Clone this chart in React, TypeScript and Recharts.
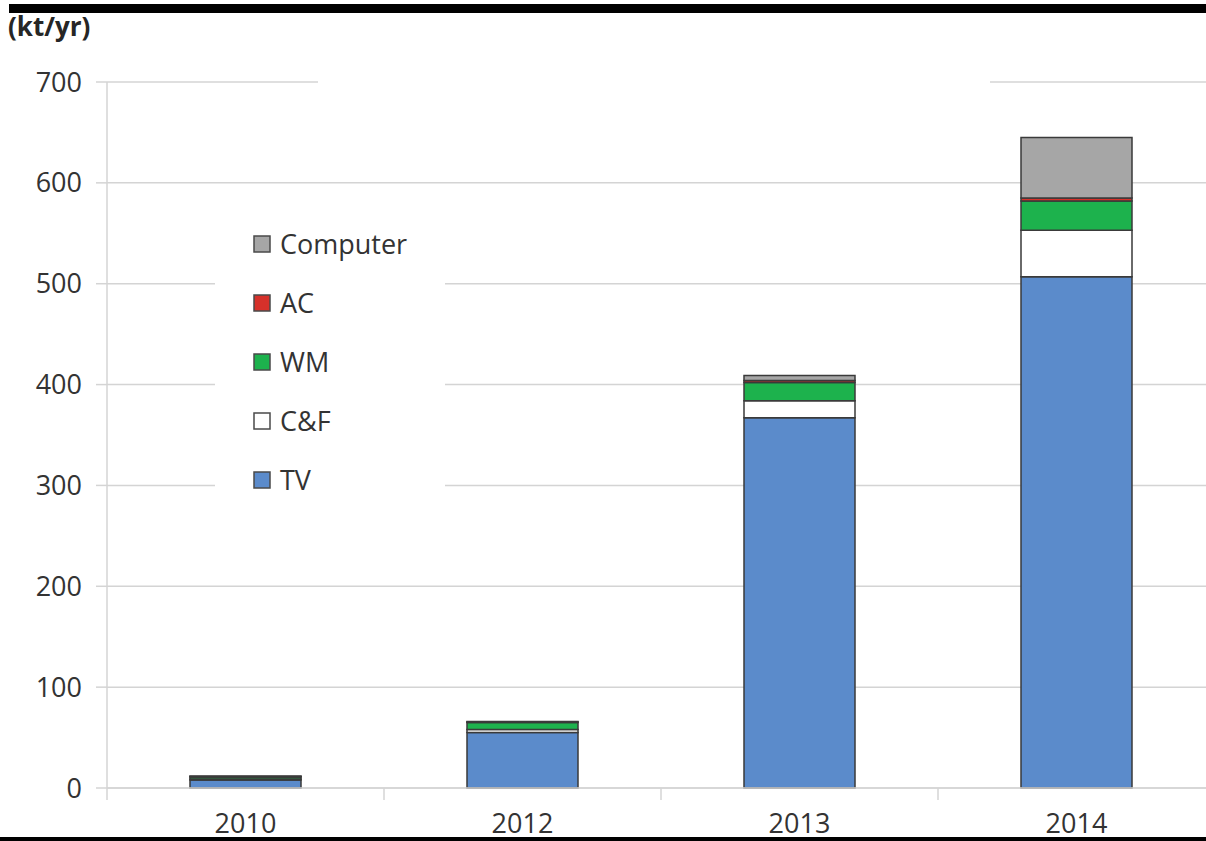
import React from 'react';
import { BarChart, Bar, XAxis, YAxis, CartesianGrid, Legend } from 'recharts';

const categories = ['2010', '2012', '2013', '2014'];
const tvValues = [8, 55, 367, 507];
const cfValues = [1, 3, 17, 46];
const wmValues = [2, 7, 18, 29];
const acValues = [0.5, 0.5, 2, 3];
const computerValues = [0.5, 0.5, 5, 60];
const yTicks = [0, 100, 200, 300, 400, 500, 600, 700];

const seriesList = [
  { key: 'TV', values: tvValues, color: '#5b8bcb' },
  { key: 'C&F', values: cfValues, color: '#ffffff' },
  { key: 'WM', values: wmValues, color: '#1db24d' },
  { key: 'AC', values: acValues, color: '#d6312a' },
  { key: 'Computer', values: computerValues, color: '#a6a6a6' },
];

const data = categories.map((c, i) => {
  const row: any = { year: c };
  seriesList.forEach((s) => {
    row[s.key] = s.values[i];
  });
  return row;
});

const CHART_W = 1215;
const CHART_H = 841;
const Y_AXIS_W = 107;
const PLOT_W = CHART_W - Y_AXIS_W;
const FONT = '"Open Sans", "Liberation Sans", sans-serif';
const TEXT_COLOR = '#333333';
const GRID = '#d4d4d4';

const XTick = (props: any) => {
  const { x, y, payload } = props;
  const band = PLOT_W / categories.length;
  return (
    <g>
      <line x1={x - band / 2} x2={x - band / 2} y1={y} y2={y + 12} stroke={GRID} strokeWidth={1.5} />
      <text x={x} y={y + 45} textAnchor="middle" fontFamily={FONT} fontSize={27} fill={TEXT_COLOR}>
        {payload.value}
      </text>
    </g>
  );
};

const LegendContent = () => {
  const items = [...seriesList].reverse();
  return (
    <svg width={230} height={310}>
      {items.map((s, i) => {
        const cy = 49 + i * 59;
        return (
          <g key={s.key}>
            <rect x={39} y={cy - 8} width={16} height={16} fill={s.color} stroke="#4a4a4a" strokeWidth={1.5} />
            <text x={65} y={cy} dy="0.36em" fontFamily={FONT} fontSize={27} fill={TEXT_COLOR}>
              {s.key}
            </text>
          </g>
        );
      })}
    </svg>
  );
};

export default function App() {
  return (
    <div style={{ position: 'absolute', left: 0, top: 0, width: 1206, height: 841, overflow: 'hidden', background: '#fff' }}>
      <BarChart
        width={CHART_W}
        height={CHART_H}
        data={data}
        margin={{ top: 82, right: 0, bottom: 0, left: 0 }}
      >
        <CartesianGrid vertical={false} stroke={GRID} strokeWidth={1.5} />
        <XAxis
          dataKey="year"
          height={53}
          axisLine={{ stroke: GRID, strokeWidth: 1.5 }}
          tickLine={false}
          tickSize={0}
          tickMargin={0}
          tick={<XTick />}
          interval={0}
        />
        <YAxis
          width={Y_AXIS_W}
          domain={[0, 700]}
          ticks={yTicks}
          interval={0}
          axisLine={{ stroke: GRID, strokeWidth: 1.5 }}
          tickLine={{ stroke: GRID, strokeWidth: 1.5 }}
          tickSize={11}
          tickMargin={14}
          tick={{ fontFamily: FONT, fontSize: 27, fill: TEXT_COLOR }}
        />
        <Legend
          layout="vertical"
          align="center"
          verticalAlign="middle"
          content={<LegendContent />}
          wrapperStyle={{ position: 'absolute', left: 215, top: 195, width: 230, height: 310, background: '#fff' }}
        />
        {seriesList.map((s) => (
          <Bar
            key={s.key}
            dataKey={s.key}
            stackId="a"
            fill={s.color}
            stroke="#3a3a3a"
            strokeWidth={1.5}
            barSize={111}
            isAnimationActive={false}
          />
        ))}
      </BarChart>
      <svg width={1206} height={841} style={{ position: 'absolute', left: 0, top: 0, pointerEvents: 'none' }}>
        <rect x={318} y={76} width={672} height={12} fill="#fff" />
        <rect x={9} y={4} width={1197} height={9} fill="#000" />
        <rect x={0} y={837} width={1206} height={4} fill="#000" />
        <text x={8} y={36} fontFamily={FONT} fontWeight="bold" fontSize={26} fill="#262626">(kt/yr)</text>
      </svg>
    </div>
  );
}
